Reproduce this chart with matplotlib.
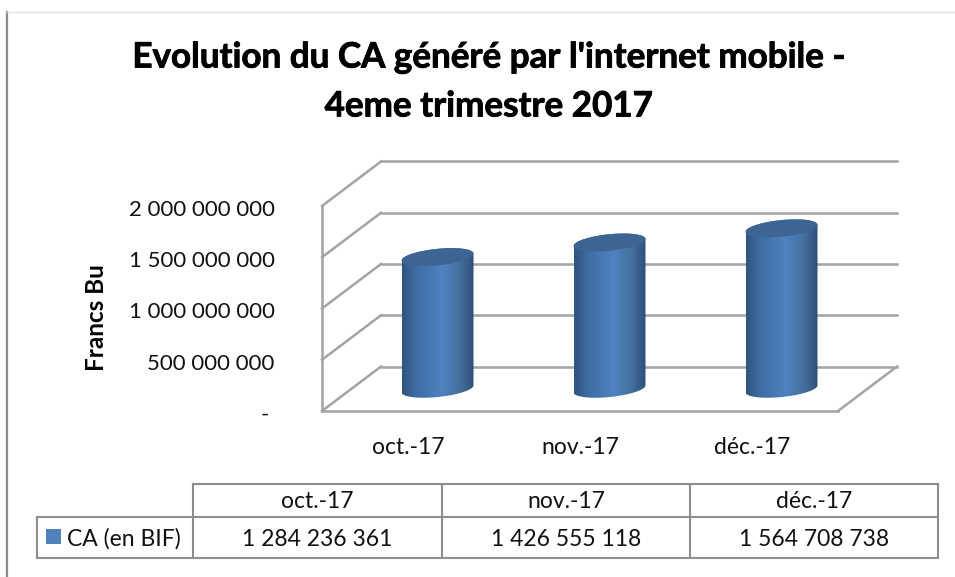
import numpy as np
import matplotlib
matplotlib.use("Agg")
import matplotlib.pyplot as plt
import matplotlib.patheffects as pe
from matplotlib.colors import LinearSegmentedColormap
from matplotlib.patches import Polygon, Rectangle
from matplotlib.transforms import ScaledTranslation

# ---- data ----
categories = ["oct.-17", "nov.-17", "déc.-17"]
values = [1284236361, 1426555118, 1564708738]
series_name = "CA (en BIF)"
y_ticks = [0, 500000000, 1000000000, 1500000000, 2000000000]
title = "Evolution du CA généré par l'internet mobile -\n4eme trimestre 2017"
y_label = "Francs Bu"

W, H = 955, 577
plt.rcParams["font.family"] = ["Lato", "DejaVu Sans"]
fig = plt.figure(figsize=(W / 100, H / 100), dpi=100, facecolor="white")

GRID = "#a3a3a3"
LW = 1.8

# overlay in pixel units for frame and table
pg = fig.add_axes([0, 0, 1, 1], zorder=0)
pg.set_xlim(0, W)
pg.set_ylim(H, 0)
pg.axis("off")
pg.plot([7, 7], [12, H], color="#8c8c8c", lw=1.6)
pg.plot([7, W], [12, 12], color="#e2e2e2", lw=1.0)

# front plane of the 3D plot: the real axes
L, R, T, B = 322, 838, 206, 411
ax = fig.add_axes([L / W, 1 - B / H, (R - L) / W, (B - T) / H], zorder=1)
ax.patch.set_alpha(0)
ax.set_xlim(-0.5, len(categories) - 0.5)
ax.set_ylim(0, y_ticks[-1])
px_x = (len(categories)) / (R - L)
px_y = y_ticks[-1] / (B - T)
DEPTH_X, DEPTH_Y = 59 * px_x, 44.5 * px_y

for s in ("top", "right"):
    ax.spines[s].set_visible(False)
for s in ("left", "bottom"):
    ax.spines[s].set_color(GRID)
    ax.spines[s].set_linewidth(LW)

# walls
x0, x1 = ax.get_xlim()
for v in y_ticks:
    ax.plot([x0, x0 + DEPTH_X], [v, v + DEPTH_Y], color=GRID, lw=LW, clip_on=False, zorder=1)
    ax.plot([x0 + DEPTH_X, x1 + DEPTH_X], [v + DEPTH_Y] * 2, color=GRID, lw=LW, clip_on=False, zorder=1)
ax.plot([x1, x1 + DEPTH_X], [0, DEPTH_Y], color=GRID, lw=LW, clip_on=False, zorder=1)

# cylinders
cmap = LinearSegmentedColormap.from_list(
    "cyl", [(0, "#2f5480"), (0.2, "#3f6da3"), (0.55, "#4f82c2"), (0.8, "#44709f"), (1, "#2f5078")]
)
grad = np.linspace(0, 1, 256).reshape(1, -1)
half = 36 * px_x
t = np.linspace(0, 2 * np.pi, 120)
for i, v in enumerate(values):
    cx = i + DEPTH_X / 2
    base = DEPTH_Y / 2
    top = v + DEPTH_Y / 2
    a = half
    b = 8.3 * px_y
    skew = 3.5 * px_y
    # outline: lower half of base ellipse, then upper half of top ellipse
    tb = np.linspace(np.pi, 2 * np.pi, 60)
    low_x = cx + a * np.cos(tb)
    low_y = base + skew * np.cos(tb) + b * np.sin(tb)
    tt = np.linspace(0, np.pi, 60)
    up_x = cx + a * np.cos(tt)
    up_y = top + skew * np.cos(tt) + b * np.sin(tt)
    body = Polygon(np.column_stack([np.r_[low_x, up_x], np.r_[low_y, up_y]]),
                   closed=True, fc="none", ec="none", transform=ax.transData)
    ax.add_patch(body)
    body.set_clip_on(False)
    im = ax.imshow(grad, cmap=cmap, aspect="auto", zorder=3,
                   extent=[cx - a, cx + a, base - 2 * b, top + 2 * b], interpolation="bilinear")
    im.set_clip_path(body)
    ax.fill(cx + a * np.cos(t), top + skew * np.cos(t) + b * np.sin(t),
            color="#3d6594", lw=0, zorder=4, clip_on=False)
ax.set_xlim(x0, x1)
ax.set_ylim(0, y_ticks[-1])

# axis labels
def grouped(n):
    return f"{n:,}".replace(",", " ")

ax.set_yticks(y_ticks)
ax.set_yticklabels([grouped(v) if v else "- " for v in y_ticks])
ax.set_xticks(range(len(categories)))
ax.set_xticklabels(categories)
ax.tick_params(axis="y", length=0, pad=34, labelsize=16, labelcolor="#111111")
ax.tick_params(axis="x", length=0, pad=19, labelsize=16.5, labelcolor="#111111")
shift = ScaledTranslation(0, -2 / 100, fig.dpi_scale_trans)
for lab in ax.get_yticklabels():
    lab.set_transform(lab.get_transform() + shift)

pg.text(96, 318, y_label, rotation=90, ha="center", va="center",
        fontsize=17.5, fontweight="bold", color="black")
ttl = pg.text(489, 82, title, ha="center", va="center", fontsize=25.2, fontweight="bold",
              color="black", linespacing=1.65)
ttl.set_path_effects([pe.withStroke(linewidth=0.6, foreground="black")])

# data table
TC = "#8e8e8e"
col_x = [193, 442, 690, 938]
row_y = [484, 517, 558]
for x in col_x:
    pg.plot([x, x], [row_y[0], row_y[2]], color=TC, lw=1.5)
pg.plot([col_x[0], col_x[-1]], [row_y[0]] * 2, color=TC, lw=1.5)
pg.plot([37, col_x[-1]], [row_y[1]] * 2, color=TC, lw=1.5)
pg.plot([37, col_x[-1]], [row_y[2]] * 2, color=TC, lw=1.5)
pg.plot([37, 37], [row_y[1], row_y[2]], color=TC, lw=1.5)
pg.add_patch(Rectangle((46, 529), 15, 15, fc="#4f81bd", ec="none"))
pg.text(67, 539, series_name, ha="left", va="center", fontsize=16.5, color="#111111")
for i, (c, v) in enumerate(zip(categories, values)):
    xm = (col_x[i] + col_x[i + 1]) / 2
    pg.text(xm, 501, c, ha="center", va="center", fontsize=16.5, color="#111111")
    pg.text(xm, 539, grouped(v), ha="center", va="center", fontsize=16.5, color="#111111")

fig.savefig("out.png", dpi=100, facecolor="white")
